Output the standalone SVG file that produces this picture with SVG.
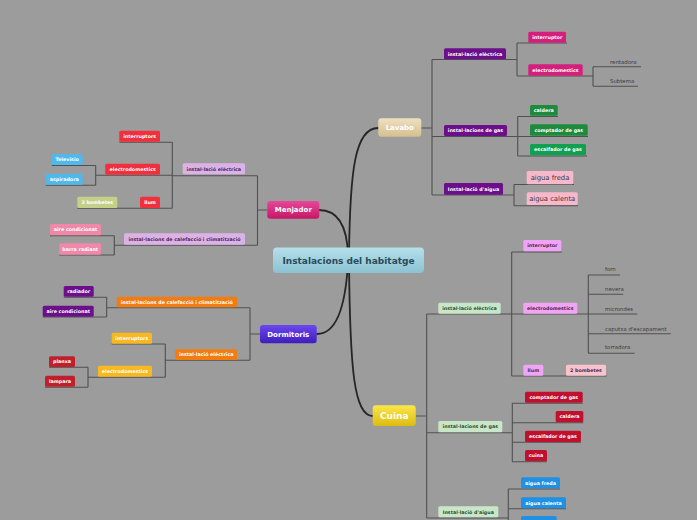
<svg xmlns="http://www.w3.org/2000/svg" width="697" height="520" viewBox="0 0 697 520">
<defs>
<linearGradient id="gCenter" x1="0" y1="0" x2="0" y2="1"><stop offset="0" stop-color="#b4e0ea"/><stop offset="1" stop-color="#8cc2d2"/></linearGradient>
<linearGradient id="gLav" x1="0" y1="0" x2="0" y2="1"><stop offset="0" stop-color="#eee0bf"/><stop offset="1" stop-color="#d6bf90"/></linearGradient>
<linearGradient id="gMen" x1="0" y1="0" x2="0" y2="1"><stop offset="0" stop-color="#e8479a"/><stop offset="1" stop-color="#c41866"/></linearGradient>
<linearGradient id="gDor" x1="0" y1="0" x2="0" y2="1"><stop offset="0" stop-color="#6a48ee"/><stop offset="1" stop-color="#3e1cbc"/></linearGradient>
<linearGradient id="gCui" x1="0" y1="0" x2="0" y2="1"><stop offset="0" stop-color="#fae64a"/><stop offset="1" stop-color="#dcbc10"/></linearGradient>
</defs>
<style>
.l{fill:none;stroke:#505050;stroke-width:1.1}
.c{fill:none;stroke:#262626;stroke-width:1.8;stroke-linecap:round}
text{font-family:"DejaVu Sans","Liberation Sans",sans-serif;font-size:5.4px;text-anchor:middle}
.w{fill:#ffffff;font-weight:bold;font-size:4.8px}
.d{fill:#4a2a5a;font-weight:bold;font-size:4.8px}
.g{fill:#2f4f35;font-weight:bold;font-size:4.8px}
.p{text-anchor:start;fill:#3a3a3a}
.big{font-weight:bold;font-size:7px;fill:#ffffff}
.purple{fill:#6b0f8a}.mag{fill:#d4207c}.grn{fill:#1e8a3c}.bgrn{fill:#10a050}.lpink{fill:#f8b8cc}
.lav{fill:#dcb2e6}.red{fill:#f0303c}.lblue{fill:#50b8ea}.ygrn{fill:#c4d088}.pink{fill:#f088aa}
.org{fill:#f07c12}.yorg{fill:#f8b820}.dred{fill:#c0202c}.lgrn{fill:#c8e6c8}.lmag{fill:#f0a4f4}
.lpk2{fill:#f8c4cc}.crim{fill:#c0102e}.blue{fill:#2090e2}
</style>
<rect width="697" height="520" fill="#9c9c9c"/>

<g id="connectors">
<path class="c" d="M349,255 C350,170 355,128 378,128"/>
<path class="c" d="M319,210 C335,210 347,222 348,255"/>
<path class="c" d="M317,334 C338,334 346,300 348,262"/>
<path class="c" d="M349,262 C350,370 354,416 373,416"/>
<path class="l" d="M421,128H432M432,59.5V195M432,59.5H517M517,43V76M517,43H567M517,76H593M593,66.7V86.3M593,66.7H641M593,86.3H638M432,136.5H517.7M517.7,116.5V156M517.7,116.5H558M517.7,136.5H588M517.7,156H587M432,195H514M514,184.5V205.7M514,184.5H574M514,205.7H578"/>
<path class="l" d="M267,210H257.5M257.5,175.7V245.3M257.5,175.7H172.3M172.3,142.3V208.3M172.3,142.3H119.3M172.3,175.2H95.7M95.7,165.5V185.2M95.7,165.5H51.7M95.7,185.2H45.7M172.3,208.3H77.3M257.5,245.3H114.3M114.3,235.7V255M114.3,235.7H50M114.3,255H59.3"/>
<path class="l" d="M260,334H250M250,307.7V360.3M250,307.7H106.7M106.7,297.3V317M106.7,297.3H63.7M106.7,317H42.7M250,360.3H165.3M165.3,344V377.3M165.3,344H111.7M165.3,377.3H88M88,367.3V387.3M88,367.3H49M88,387.3H45"/>
<path class="l" d="M416,416H426.7M426.7,314V518M426.7,314H511.7M511.7,252V376M511.7,252H561.5M511.7,314H588.3M588.3,275V353.3M588.3,275H620M588.3,294.3H623.3M588.3,314H637.3M588.3,333.7H670.7M588.3,353.3H634.7M511.7,376H606.7M426.7,432.7H512.3M512.3,403.3V461.7M512.3,403.3H582.7M512.3,422.7H583.3M512.3,442.3H581M512.3,461.7H547M426.7,518H508.3M508.3,489V520M508.3,489H560M508.3,508.7H566"/>
</g>

<g id="center"><rect x="273" y="247.5" width="151" height="25.5" rx="4" fill="url(#gCenter)"/><text x="348.5" y="263.5" style="font-size:9px;font-weight:bold;fill:#2b4a5a">Instalacions del habitatge</text></g>

<g id="lavabo"><rect x="378.3" y="118.3" width="43" height="18.4" rx="3" fill="url(#gLav)"/><text class="big" x="399.8" y="130">Lavabo</text></g>
<g id="menjador"><rect x="267.3" y="201" width="52" height="17.7" rx="3" fill="url(#gMen)"/><text class="big" x="293.3" y="212.4">Menjador</text></g>
<g id="dormitoris"><rect x="260" y="325" width="56.7" height="18.3" rx="3" fill="url(#gDor)"/><text class="big" x="288.3" y="336.7">Dormitoris</text></g>
<g id="cuina"><rect x="372.7" y="405.3" width="43" height="20.7" rx="3" fill="url(#gCui)"/><text class="big" x="394.2" y="418.8" style="font-size:9px">Cuina</text></g>

<g id="lav-el"><rect class="purple" x="444" y="48.3" width="62" height="11" rx="1.5"/><text class="w" x="475" y="55.5">instal·lació elèctrica</text></g>
<g id="lav-int"><rect class="mag" x="528.3" y="31.7" width="37.7" height="11" rx="1.5"/><text class="w" x="547.2" y="38.9">interruptor</text></g>
<g id="lav-electro"><rect class="mag" x="528.3" y="64.3" width="54.4" height="11.4" rx="1.5"/><text class="w" x="555.5" y="71.7">electrodomestics</text></g>
<g id="lav-rentadora"><text class="p" x="610" y="63.5">rentadora</text></g>
<g id="lav-subtema"><text class="p" x="610" y="83">Subtema</text></g>
<g id="lav-gas"><rect class="purple" x="444" y="125" width="63" height="11" rx="1.5"/><text class="w" x="475.5" y="132.2">instal·lacions de gas</text></g>
<g id="lav-caldera"><rect class="grn" x="530" y="105" width="27.7" height="10.7" rx="1.5"/><text class="w" x="543.8" y="112">caldera</text></g>
<g id="lav-comptador"><rect class="grn" x="530" y="124.3" width="57.7" height="11.4" rx="1.5"/><text class="w" x="558.8" y="131.7">comptador de gas</text></g>
<g id="lav-escalfador"><rect class="bgrn" x="530" y="144" width="56" height="11.3" rx="1.5"/><text class="w" x="558" y="151.3">escalfador de gas</text></g>
<g id="lav-aigua"><rect class="purple" x="444" y="183" width="59" height="11.7" rx="1.5"/><text class="w" x="473.5" y="190.5">Instal·lació d'aigua</text></g>
<g id="lav-freda"><rect class="lpink" x="526.7" y="171" width="46.6" height="13.3" rx="1.5"/><text x="550" y="180" style="font-size:6.8px;fill:#3a3a3a">aigua freda</text></g>
<g id="lav-calenta"><rect class="lpink" x="526.7" y="192.3" width="51" height="12.7" rx="1.5"/><text x="552.2" y="201" style="font-size:6.8px;fill:#3a3a3a">aigua calenta</text></g>

<g id="men-el"><rect class="lav" x="182.7" y="163.3" width="62.3" height="11" rx="1.5"/><text class="d" x="213.8" y="170.5">instal·lació elèctrica</text></g>
<g id="men-interruptors"><rect class="red" x="119.3" y="130.7" width="40.7" height="11" rx="1.5"/><text class="w" x="139.7" y="137.9">interruptors</text></g>
<g id="men-electro"><rect class="red" x="105.3" y="163.7" width="54.7" height="11" rx="1.5"/><text class="w" x="132.7" y="170.9">electrodomestics</text></g>
<g id="men-tv"><rect class="lblue" x="51.7" y="154" width="31" height="11" rx="1.5"/><text class="w" x="67.2" y="161.2">Televisio</text></g>
<g id="men-asp"><rect class="lblue" x="45.7" y="173.7" width="37" height="11" rx="1.5"/><text class="w" x="64.2" y="180.9">aspiradora</text></g>
<g id="men-llum"><rect class="red" x="140" y="196.7" width="20" height="11.3" rx="1.5"/><text class="w" x="150" y="204">llum</text></g>
<g id="men-3b"><rect class="ygrn" x="77.3" y="196.7" width="40" height="11.3" rx="1.5"/><text class="w" x="97.3" y="204">3 bombetes</text></g>
<g id="men-cal"><rect class="lav" x="124" y="233.3" width="121" height="11.4" rx="1.5"/><text class="d" x="184.5" y="240.7">instal·lacions de calefacció i climatització</text></g>
<g id="men-aire"><rect class="pink" x="50" y="224" width="51" height="11.3" rx="1.5"/><text class="w" x="75.5" y="231.3">aire condicionat</text></g>
<g id="men-barra"><rect class="pink" x="59.3" y="243.3" width="41.7" height="11.4" rx="1.5"/><text class="w" x="80.2" y="250.7">barra radiant</text></g>

<g id="dor-cal"><rect class="org" x="116.7" y="296.7" width="120.3" height="10.6" rx="1.5"/><text class="w" x="176.8" y="303.7">instal·lacions de calefacció i climatització</text></g>
<g id="dor-rad"><rect class="purple" x="63.7" y="286" width="30" height="10.7" rx="1.5"/><text class="w" x="78.7" y="293">radiador</text></g>
<g id="dor-aire"><rect class="purple" x="42.7" y="305.7" width="51" height="11" rx="1.5"/><text class="w" x="68.2" y="312.9">aire condicionat</text></g>
<g id="dor-el"><rect class="org" x="175.3" y="349.3" width="61.7" height="10.7" rx="1.5"/><text class="w" x="206.2" y="356.3">instal·lació elèctrica</text></g>
<g id="dor-int"><rect class="yorg" x="111.7" y="332.7" width="40.3" height="11" rx="1.5"/><text class="w" x="131.8" y="339.9">interruptors</text></g>
<g id="dor-electro"><rect class="yorg" x="98" y="365.7" width="54" height="11" rx="1.5"/><text class="w" x="125" y="372.9">electrodomestics</text></g>
<g id="dor-planxa"><rect class="dred" x="49" y="356.3" width="26" height="10.7" rx="1.5"/><text class="w" x="62" y="363.3">planxa</text></g>
<g id="dor-lampara"><rect class="dred" x="45" y="375.7" width="30" height="11" rx="1.5"/><text class="w" x="60" y="382.9">lampara</text></g>

<g id="cui-el"><rect class="lgrn" x="438.3" y="302.7" width="62.4" height="11" rx="1.5"/><text class="g" x="469.5" y="309.9">instal·lació elèctrica</text></g>
<g id="cui-int"><rect class="lmag" x="523.3" y="240" width="38" height="11.3" rx="1.5"/><text class="d" x="542.3" y="247.3">interruptor</text></g>
<g id="cui-electro"><rect class="lmag" x="523.3" y="302.7" width="54" height="11" rx="1.5"/><text class="d" x="550.3" y="309.9">electrodomestics</text></g>
<g id="cui-forn"><text class="p" x="605" y="271.2">forn</text></g>
<g id="cui-nevera"><text class="p" x="605" y="291.2">nevera</text></g>
<g id="cui-microndes"><text class="p" x="605" y="310.6">microndes</text></g>
<g id="cui-caputxa"><text class="p" x="605" y="330.6">caputxa d'escapament</text></g>
<g id="cui-torradora"><text class="p" x="605" y="349.2">torradora</text></g>
<g id="cui-llum"><rect class="lmag" x="523.3" y="364.7" width="20" height="11" rx="1.5"/><text class="d" x="533.3" y="371.9">llum</text></g>
<g id="cui-2b"><rect class="lpk2" x="566" y="364.7" width="40" height="11" rx="1.5"/><text class="d" x="586" y="371.9">2 bombetes</text></g>
<g id="cui-gas"><rect class="lgrn" x="438.3" y="421" width="64" height="11.3" rx="1.5"/><text class="g" x="470.3" y="428.3">instal·lacions de gas</text></g>
<g id="cui-comptador"><rect class="crim" x="525" y="391.7" width="57.7" height="11" rx="1.5"/><text class="w" x="553.8" y="398.9">comptador de gas</text></g>
<g id="cui-caldera"><rect class="crim" x="555.7" y="411" width="27.6" height="11.3" rx="1.5"/><text class="w" x="569.5" y="418.3">caldera</text></g>
<g id="cui-escalfador"><rect class="crim" x="525" y="430.7" width="56" height="11.3" rx="1.5"/><text class="w" x="553" y="438">escalfador de gas</text></g>
<g id="cui-cuina"><rect class="crim" x="525" y="450" width="22" height="11.3" rx="1.5"/><text class="w" x="536" y="457.3">cuina</text></g>
<g id="cui-aigua"><rect class="lgrn" x="438.3" y="506.3" width="60" height="11" rx="1.5"/><text class="g" x="468.3" y="513.5">Instal·lació d'aigua</text></g>
<g id="cui-freda"><rect class="blue" x="521" y="477.3" width="39" height="11" rx="1.5"/><text class="w" x="540.5" y="484.5">aigua freda</text></g>
<g id="cui-calenta"><rect class="blue" x="521" y="497.3" width="45" height="11" rx="1.5"/><text class="w" x="543.5" y="504.5">aigua calenta</text></g>
<g id="cui-more"><rect class="blue" x="521" y="516" width="35.7" height="10" rx="1.5"/></g>
</svg>
